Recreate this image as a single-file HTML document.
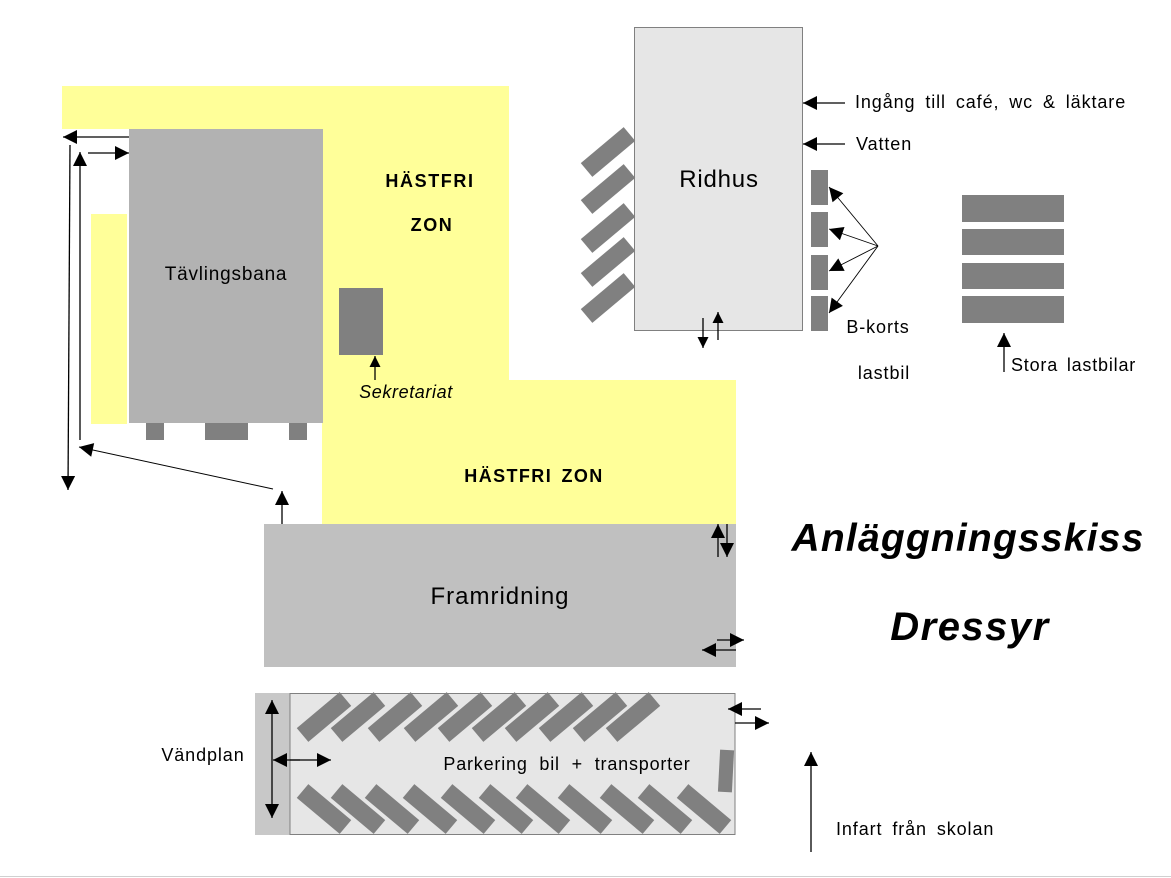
<!DOCTYPE html>
<html><head><meta charset="utf-8"><style>
html,body{margin:0;padding:0;background:#fff;}
svg{display:block;}
text{font-family:"Liberation Sans",Arial,sans-serif;fill:#000;}
</style></head><body>
<svg width="1171" height="878" viewBox="0 0 1171 878" xmlns="http://www.w3.org/2000/svg">
<defs>
<marker id="b" viewBox="0 0 10 10" refX="10" refY="5" markerWidth="18" markerHeight="14" markerUnits="userSpaceOnUse" orient="auto"><path d="M0,0L10,5L0,10z" fill="#000"/></marker>
<marker id="s" viewBox="0 0 10 10" refX="10" refY="5" markerWidth="16" markerHeight="11" markerUnits="userSpaceOnUse" orient="auto"><path d="M0,0L10,5L0,10z" fill="#000"/></marker>
</defs>
<rect x="62" y="86" width="447" height="43" fill="#ffff99"/>
<rect x="322" y="86" width="187" height="300" fill="#ffff99"/>
<rect x="322" y="380" width="414" height="144" fill="#ffff99"/>
<rect x="91" y="214" width="36" height="210" fill="#ffff99"/>
<rect x="129" y="129" width="194" height="294" fill="#b2b2b2"/>
<text x="226" y="280" font-size="19" letter-spacing="0.8" text-anchor="middle">Tävlingsbana</text>
<rect x="146" y="423" width="18" height="17" fill="#808080"/>
<rect x="205" y="423" width="43" height="17" fill="#808080"/>
<rect x="289" y="423" width="18" height="17" fill="#808080"/>
<rect x="339" y="288" width="44" height="67" fill="#808080"/>
<line x1="375" y1="380" x2="375" y2="356" stroke="#000" stroke-width="1.3" marker-end="url(#s)"/>
<text x="406" y="398" font-size="18" font-style="italic" letter-spacing="0.6" text-anchor="middle">Sekretariat</text>
<text x="430" y="187" font-size="18" font-weight="bold" letter-spacing="1.6" text-anchor="middle">HÄSTFRI</text>
<text x="432" y="231" font-size="18" font-weight="bold" letter-spacing="1.6" text-anchor="middle">ZON</text>
<text x="534" y="482" font-size="18" font-weight="bold" letter-spacing="1.4" word-spacing="3" text-anchor="middle">HÄSTFRI ZON</text>
<line x1="129" y1="137" x2="63" y2="137" stroke="#000" stroke-width="1.3" marker-end="url(#b)"/>
<line x1="88" y1="153" x2="129" y2="153" stroke="#000" stroke-width="1.3" marker-end="url(#b)"/>
<line x1="70" y1="145" x2="68" y2="490" stroke="#000" stroke-width="1.3" marker-end="url(#b)"/>
<line x1="80" y1="440" x2="80" y2="152" stroke="#000" stroke-width="1.3" marker-end="url(#b)"/>
<line x1="273" y1="489" x2="79" y2="447" stroke="#000" stroke-width="1" marker-end="url(#b)"/>
<line x1="282" y1="524" x2="282" y2="491" stroke="#000" stroke-width="1.3" marker-end="url(#b)"/>
<rect x="264" y="524" width="472" height="143" fill="#c0c0c0"/>
<text x="500" y="604" font-size="24" letter-spacing="1" text-anchor="middle">Framridning</text>
<line x1="718" y1="557" x2="718" y2="524" stroke="#000" stroke-width="1.3" marker-end="url(#b)"/>
<line x1="727" y1="524" x2="727" y2="557" stroke="#000" stroke-width="1.3" marker-end="url(#b)"/>
<line x1="717" y1="640" x2="744" y2="640" stroke="#000" stroke-width="1.3" marker-end="url(#b)"/>
<line x1="736" y1="650" x2="702" y2="650" stroke="#000" stroke-width="1.3" marker-end="url(#b)"/>
<rect x="255" y="693" width="35" height="142" fill="#c8c8c8"/>
<rect x="290" y="693.5" width="445" height="141" fill="#e6e6e6" stroke="#808080" stroke-width="1"/>
<g fill="#808080">
<rect x="-28" y="-9" width="56" height="18" transform="translate(324,717) rotate(-40)"/>
<rect x="-28" y="-9" width="56" height="18" transform="translate(358,717) rotate(-40)"/>
<rect x="-28" y="-9" width="56" height="18" transform="translate(395,717) rotate(-40)"/>
<rect x="-28" y="-9" width="56" height="18" transform="translate(431,717) rotate(-40)"/>
<rect x="-28" y="-9" width="56" height="18" transform="translate(465,717) rotate(-40)"/>
<rect x="-28" y="-9" width="56" height="18" transform="translate(499,717) rotate(-40)"/>
<rect x="-28" y="-9" width="56" height="18" transform="translate(532,717) rotate(-40)"/>
<rect x="-28" y="-9" width="56" height="18" transform="translate(566,717) rotate(-40)"/>
<rect x="-28" y="-9" width="56" height="18" transform="translate(600,717) rotate(-40)"/>
<rect x="-28" y="-9" width="56" height="18" transform="translate(633,717) rotate(-40)"/>
<rect x="-28" y="-9" width="56" height="18" transform="translate(324,809) rotate(40)"/>
<rect x="-28" y="-9" width="56" height="18" transform="translate(358,809) rotate(40)"/>
<rect x="-28" y="-9" width="56" height="18" transform="translate(392,809) rotate(40)"/>
<rect x="-28" y="-9" width="56" height="18" transform="translate(430,809) rotate(40)"/>
<rect x="-28" y="-9" width="56" height="18" transform="translate(468,809) rotate(40)"/>
<rect x="-28" y="-9" width="56" height="18" transform="translate(506,809) rotate(40)"/>
<rect x="-28" y="-9" width="56" height="18" transform="translate(543,809) rotate(40)"/>
<rect x="-28" y="-9" width="56" height="18" transform="translate(585,809) rotate(40)"/>
<rect x="-28" y="-9" width="56" height="18" transform="translate(627,809) rotate(40)"/>
<rect x="-28" y="-9" width="56" height="18" transform="translate(665,809) rotate(40)"/>
<rect x="-28" y="-9" width="56" height="18" transform="translate(704,809) rotate(40)"/>
<rect x="-7" y="-21" width="14" height="42" transform="translate(726,771) rotate(3)"/>
</g>
<text x="567" y="770" font-size="18" letter-spacing="0.8" word-spacing="6" text-anchor="middle">Parkering bil + transporter</text>
<text x="203" y="761" font-size="18" letter-spacing="0.9" text-anchor="middle">Vändplan</text>
<line x1="272" y1="760" x2="272" y2="700" stroke="#000" stroke-width="1.3" marker-end="url(#b)"/>
<line x1="272" y1="760" x2="272" y2="818" stroke="#000" stroke-width="1.3" marker-end="url(#b)"/>
<line x1="300" y1="760" x2="273" y2="760" stroke="#000" stroke-width="1.3" marker-end="url(#b)"/>
<line x1="290" y1="760" x2="331" y2="760" stroke="#000" stroke-width="1.3" marker-end="url(#b)"/>
<line x1="761" y1="709" x2="728" y2="709" stroke="#000" stroke-width="1.3" marker-end="url(#b)"/>
<line x1="735" y1="723" x2="769" y2="723" stroke="#000" stroke-width="1.3" marker-end="url(#b)"/>
<rect x="634.5" y="27.5" width="168" height="303" fill="#e6e6e6" stroke="#808080" stroke-width="1"/>
<text x="719" y="187" font-size="24" letter-spacing="0.8" text-anchor="middle">Ridhus</text>
<g fill="#808080">
<rect x="-28" y="-9" width="56" height="18" transform="translate(608,152) rotate(-40)"/>
<rect x="-28" y="-9" width="56" height="18" transform="translate(608,189) rotate(-40)"/>
<rect x="-28" y="-9" width="56" height="18" transform="translate(608,228) rotate(-40)"/>
<rect x="-28" y="-9" width="56" height="18" transform="translate(608,262) rotate(-40)"/>
<rect x="-28" y="-9" width="56" height="18" transform="translate(608,298) rotate(-40)"/>
<rect x="811" y="170" width="17" height="35"/>
<rect x="811" y="212" width="17" height="35"/>
<rect x="811" y="255" width="17" height="35"/>
<rect x="811" y="296" width="17" height="35"/>
<rect x="962" y="195" width="102" height="27"/>
<rect x="962" y="229" width="102" height="26"/>
<rect x="962" y="263" width="102" height="26"/>
<rect x="962" y="296" width="102" height="27"/>
</g>
<line x1="703" y1="318" x2="703" y2="348" stroke="#000" stroke-width="1.3" marker-end="url(#s)"/>
<line x1="718" y1="340" x2="718" y2="312" stroke="#000" stroke-width="1.3" marker-end="url(#s)"/>
<line x1="845" y1="103" x2="803" y2="103" stroke="#000" stroke-width="1.3" marker-end="url(#b)"/>
<line x1="845" y1="144" x2="803" y2="144" stroke="#000" stroke-width="1.3" marker-end="url(#b)"/>
<text x="855" y="108" font-size="18" letter-spacing="0.9" word-spacing="4">Ingång till café, wc &amp; läktare</text>
<text x="856" y="150" font-size="18" letter-spacing="0.9">Vatten</text>
<g stroke="#000" stroke-width="0.9">
<line x1="878" y1="246" x2="829" y2="187" marker-end="url(#b)"/>
<line x1="878" y1="246" x2="829" y2="229" marker-end="url(#b)"/>
<line x1="878" y1="246" x2="829" y2="271" marker-end="url(#b)"/>
<line x1="878" y1="246" x2="829" y2="313" marker-end="url(#b)"/>
</g>
<text x="878" y="333" font-size="18" letter-spacing="0.9" text-anchor="middle">B-korts</text>
<text x="884" y="379" font-size="18" letter-spacing="0.9" text-anchor="middle">lastbil</text>
<line x1="1004" y1="372" x2="1004" y2="333" stroke="#000" stroke-width="1.3" marker-end="url(#b)"/>
<text x="1011" y="371" font-size="18" letter-spacing="0.8" word-spacing="3">Stora lastbilar</text>
<text x="968" y="551" font-size="39" font-weight="bold" font-style="italic" letter-spacing="1.2" text-anchor="middle">Anläggningsskiss</text>
<text x="970" y="640" font-size="40" font-weight="bold" font-style="italic" letter-spacing="1.5" text-anchor="middle">Dressyr</text>
<line x1="811" y1="852" x2="811" y2="752" stroke="#000" stroke-width="1.3" marker-end="url(#b)"/>
<text x="836" y="835" font-size="18" letter-spacing="0.9" word-spacing="4">Infart från skolan</text>
<line x1="0" y1="876.5" x2="1171" y2="876.5" stroke="#d0d0d0" stroke-width="1"/>
</svg>
</body></html>
